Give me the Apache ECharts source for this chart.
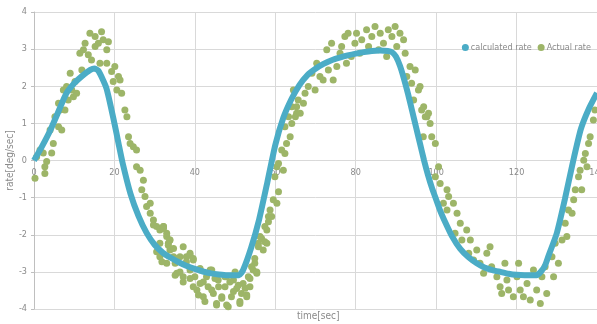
<!DOCTYPE html>
<html><head><meta charset="utf-8">
<script src="https://cdn.jsdelivr.net/npm/echarts@6/dist/echarts.min.js"></script>
<style>html,body{margin:0;padding:0;background:#fff}#c{width:597px;height:324px}</style>
</head><body><div id="c"></div>
<script>
const xTicks = [0, 20, 40, 60, 80, 100, 120, 140];
const yTicks = [-4, -3, -2, -1, 0, 1, 2, 3, 4];
const seriesNames = ['calculated rate', 'Actual rate'];

const calcX = [0,2,4,6,8,10,12,14,15,16,18,20,21,22,24,26,28,30,32,34,36,38,40,42,44,46,48,50,51,52,54,56,58,60,62,64,66,68,70,72,74,76,78,80,82,84,86,88,89,90,91,92,93,94,95,96,97,98,99,100,101,102,104,106,108,110,112,114,116,118,120,122,124,125,126,127,128,130,132,134,136,138,140];
const calcY = [0,0.38,0.8,1.3,1.8,2.08,2.28,2.44,2.48,2.42,1.95,1.0,0.47,-0.05,-0.9,-1.5,-1.95,-2.27,-2.48,-2.62,-2.74,-2.84,-2.92,-2.99,-3.04,-3.07,-3.09,-3.09,-3.09,-2.95,-2.35,-1.58,-0.6,0.42,1.15,1.65,2.03,2.3,2.47,2.6,2.7,2.77,2.83,2.88,2.92,2.95,2.96,2.95,2.92,2.8,2.55,2.2,1.8,1.35,0.9,0.45,0.0,-0.4,-0.75,-1.05,-1.35,-1.6,-2.05,-2.38,-2.6,-2.76,-2.88,-2.95,-3.0,-3.05,-3.08,-3.09,-3.09,-3.09,-3.0,-2.85,-2.55,-1.96,-1.05,-0.05,0.85,1.4,1.82];

const actualX = [0.25,0.66,1.5,2.3,2.7,2.7,3.15,4,4.4,4.8,5.2,6.1,6.1,6.5,6.9,7.3,7.7,8.1,8.5,9,9.4,9.8,10.2,10.6,11.4,11.9,12.3,12.7,13.5,13.9,14.3,15.2,15.2,16,16.4,16.8,17.2,18.1,18.5,18.1,19.3,19.7,20.1,20.6,21,21.4,21.8,22.6,23.1,23.5,23.9,24.7,25.5,25.5,26.4,27.2,26.8,27.6,28,28.9,28.9,29.7,30.5,31.3,32.2,33,31.3,33,33.4,
32.2,33,31.3,33.8,33.8,34.7,35.5,35.1,36.3,37.1,37.9,38.8,38.8,39.6,40,40.5,41.3,41.3,42.1,42.9,43.3,44.2,44.6,45.4,45.8,46.7,47.5,47.9,48.3,49.1,49.6,50.4,51.2,51.6,52,52.9,53.3,53.7,54.5,54.9,55.4,55.8,56.2,57,57.4,57.9,58.3,58.7,59.5,60.4,60.8,59.9,60.4,60.8,62,62.4,62.8,61.6,62.4,63.3,64.1,64.5,65.3,65.7,
29.7,32.2,30.5,33.4,33.8,34.7,31.8,35.5,35.1,36.3,37.1,37.9,37.1,38.8,39.6,38.8,39.6,40.9,41.3,42.1,42.5,43.8,44.2,45,45.4,45.9,46.7,47.5,47.9,48.7,49.6,50,50.8,51.2,52.5,52.9,53.7,54.1,54.9,55.4,55.8,56.6,57.4,57.9,58.3,59.1,
63.7,64.1,65,65.3,66.2,67,67.4,68.2,69.1,69.9,70.3,71.1,71.9,72.8,73.2,74,74.4,75.3,76.1,76.5,77.3,78.1,77.7,78.9,79.8,80.2,81,81.5,82.7,83.2,84,84.8,85.7,86.1,86.9,87.7,88.1,89,89.8,90.2,91,91.9,92.3,92.7,93.5,93.9,94.8,94.4,95.6,96.4,96.8,97.7,
96,96.9,97.3,98.1,98.5,98.9,99.8,100.6,99.8,101,102.7,101.8,103.1,102.7,104.3,105.2,106,104.7,106.4,107.6,108.5,108.1,109.3,110.1,110.9,111.8,112.6,113.4,113.8,115.1,115.9,116.3,117.1,117.6,118,119.2,120.1,120.5,120.9,121.7,122.6,123.4,124.2,125,125.9,126.3,127.1,127.5,128.8,129.2,129.6,130.4,131.3,132.1,132.5,132.9,133.8,134.2,134.6,135.4,135.8,136.2,136.7,137.1,137.5,137.9,138.3,139.1,139.5];
const actualY = [-0.48,0.1,0.28,0.2,-0.35,-0.17,-0.03,0.82,0.2,0.46,1.18,0.91,1.54,1.36,0.82,1.9,1.36,1.99,1.63,2.35,1.9,1.72,2.13,1.81,2.89,2.44,2.98,3.16,2.85,3.43,2.71,3.07,3.34,3.16,2.62,3.47,3.25,2.98,3.2,2.62,2.4,2.13,2.53,1.9,2.26,2.17,1.81,1.36,1.18,0.64,0.46,0.37,-0.17,0.28,-0.26,-0.53,-0.79,-0.97,-1.24,-1.15,-1.42,-1.6,-1.78,-1.87,-1.78,-2.05,-2.59,-2.77,-2.23,
-1.78,-1.96,-2.23,-2.14,-2.41,-2.59,-3.04,-2.77,-2.59,-3.13,-2.59,-2.5,-2.95,-2.68,-3.13,-3.49,-3.31,-2.95,-3.67,-3.13,-3.4,-2.95,-3.58,-3.85,-3.22,-3.67,-3.4,-3.13,-3.94,-3.67,-3.22,-3.45,-3.85,-3.58,-3.31,-3.67,-3.13,-3.4,-2.95,-2.77,-3.04,-2.23,-2.05,-2.41,-1.78,-2.23,-1.51,-1.33,-1.06,-1.15,-0.84,-0.44,-0.17,-0.08,-0.26,0.19,0.46,0.28,0.91,1.18,1.45,1.9,1.27,1.63,
-1.74,-1.83,-2.46,-2.28,-2.14,-2.37,-2.73,-2.64,-3.09,-3.0,-2.32,-2.73,-3.27,-2.55,-2.64,-3.18,-3.4,-3.62,-2.91,-3.27,-3.8,-2.95,-3.49,-3.18,-3.89,-3.4,-3.71,-3.13,-3.89,-3.27,-3.53,-3.0,-3.36,-3.8,-3.44,-3.62,-3.18,-2.86,-2.64,-3.0,-2.32,-2.1,-2.19,-1.87,-1.65,-1.51,
0.64,1.0,1.18,1.45,1.27,1.54,1.81,1.99,2.35,1.9,2.62,2.26,2.17,2.98,2.44,3.16,2.17,2.53,2.89,3.07,3.34,3.43,2.62,2.8,3.16,3.43,2.89,3.25,3.52,3.07,3.34,3.61,2.98,3.43,3.16,2.8,3.52,3.34,3.61,3.07,3.43,3.25,2.89,2.26,2.53,2.08,2.44,1.63,1.9,1.36,0.64,1.18,
1.99,1.45,1.18,1.27,1.0,0.64,0.46,-0.17,-0.44,-0.62,-0.79,-1.15,-0.97,-1.33,-1.15,-1.42,-1.69,-1.96,-2.14,-1.87,-2.14,-2.5,-2.68,-2.41,-2.77,-3.04,-2.5,-2.32,-2.86,-3.13,-3.4,-3.58,-2.77,-3.22,-3.49,-3.67,-3.13,-2.77,-3.49,-3.67,-3.31,-3.76,-2.95,-3.49,-3.85,-3.13,-2.86,-3.58,-2.59,-3.13,-2.23,-2.77,-2.14,-1.69,-2.05,-1.33,-1.42,-1.06,-0.79,-0.44,-0.26,-0.79,0.01,0.19,-0.17,0.46,0.64,1.09,1.36];

// pick a narrow font if one is installed
function hasFont(name) {
  const c = document.createElement('canvas').getContext('2d');
  const s = 'calculated rate 0123456789';
  c.font = '20px monospace'; const a = c.measureText(s).width;
  c.font = "20px '" + name + "', monospace"; const b = c.measureText(s).width;
  return Math.abs(a - b) > 0.5;
}
const narrow = hasFont('Liberation Sans Narrow');
const FONT = narrow ? "'Liberation Sans Narrow', sans-serif" : "'DejaVu Sans Condensed', sans-serif";
const FS = narrow ? 10 : 9;
const TXT = '#8a8a8a';
const GRID = '#d9d9d9';

const chart = echarts.init(document.getElementById('c'), null, {renderer: 'canvas'});
chart.setOption({
  animation: false,
  backgroundColor: '#fff',
  textStyle: {fontFamily: FONT},
  grid: {left: 34, right: 0, top: 12, bottom: 15, containLabel: false, outerBoundsMode: 'none'},
  legend: {
    data: seriesNames, right: 1, top: 38, itemGap: 6,
    icon: 'circle', itemWidth: 7, itemHeight: 7,
    textStyle: {color: TXT, fontSize: FS, fontFamily: FONT, padding: [0, 0, 0, -3]}
  },
  xAxis: {
    type: 'value', min: xTicks[0], max: xTicks[xTicks.length - 1], interval: 20,
    position: 'bottom', offset: -148.5,
    axisLine: {show: true, onZero: false, lineStyle: {color: GRID}},
    axisTick: {show: false},
    axisLabel: {color: TXT, fontSize: FS, fontFamily: FONT, margin: 8, showMaxLabel: true, showMinLabel: true, hideOverlap: false},
    splitLine: {show: true, lineStyle: {color: GRID, width: 1}}
  },
  yAxis: {
    type: 'value', min: yTicks[0], max: yTicks[yTicks.length - 1], interval: 1,
    name: 'rate[deg/sec]', nameLocation: 'middle', nameGap: 19, nameMoveOverlap: false,
    nameTextStyle: {color: TXT, fontSize: FS + 1, fontFamily: FONT},
    axisLine: {show: true, lineStyle: {color: '#bfbfbf'}},
    axisTick: {show: true, length: 3, lineStyle: {color: '#bfbfbf'}},
    axisLabel: {color: TXT, fontSize: FS, fontFamily: FONT, margin: 7},
    splitLine: {show: true, lineStyle: {color: GRID, width: 1}}
  },
  graphic: [{
    type: 'text', left: 297, top: 311,
    style: {text: 'time[sec]', fill: TXT, font: (FS + 1) + 'px ' + FONT}
  }],
  series: [
    {
      name: seriesNames[1], type: 'scatter', symbol: 'circle', symbolSize: 7,
      itemStyle: {color: '#9db568', opacity: 1}, z: 2,
      data: actualX.map((x, i) => [x, actualY[i]])
    },
    {
      name: seriesNames[0], type: 'line', smooth: 0.2, showSymbol: false, symbol: 'circle',
      lineStyle: {color: '#4bacc6', width: 6}, itemStyle: {color: '#4bacc6'}, z: 3,
      data: calcX.map((x, i) => [x, calcY[i]])
    }
  ]
});
</script></body></html>
